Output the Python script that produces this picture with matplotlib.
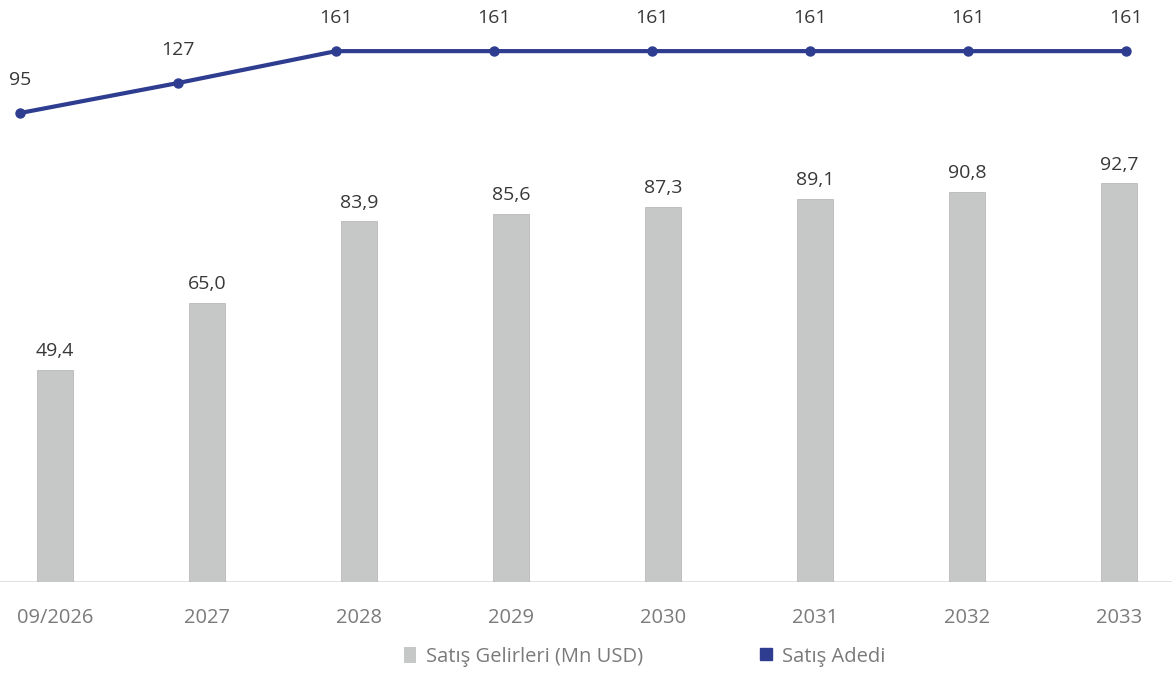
import matplotlib.pyplot as plt
from matplotlib.patches import Patch
from matplotlib.lines import Line2D

plt.rcParams['font.family'] = ['Open Sans', 'DejaVu Sans']

# data
years = ['09/2026', '2027', '2028', '2029', '2030', '2031', '2032', '2033']
gelir = [49.4, 65.0, 83.9, 85.6, 87.3, 89.1, 90.8, 92.7]   # Satış Gelirleri (Mn USD)
adet = [95, 127, 161, 161, 161, 161, 161, 161]             # Satış Adedi

bar_color = '#c6c8c7'
line_color = '#2e3d8f'
text_color = '#383838'

fig = plt.figure(figsize=(11.72, 6.73), dpi=100)
ax = fig.add_axes([0, 1 - 582 / 673, 1, 582 / 673])
x = list(range(len(years)))

ax.bar(x, gelir, width=0.24, color=bar_color, edgecolor='#b8bab9', linewidth=0.6, zorder=2)
ax.axhline(0, color='#dcdcdc', lw=1.2, zorder=1)
for i, v in zip(x, gelir):
    ax.annotate(f"{v:.1f}".replace('.', ','), (i, v), xytext=(0, 7), textcoords='offset points',
                ha='center', va='bottom', fontsize=14, color=text_color)

ax.set_xlim(-55 / 152, 7 + 53 / 152)
ax.set_ylim(0, 582 / 4.3)
ax.set_xticks(x)
ax.set_xticklabels(years, fontsize=14.5, color='#7a7a7a')
ax.tick_params(axis='x', length=0, pad=19)
ax.set_yticks([])
for s in ax.spines.values():
    s.set_visible(False)

# line on its own axes (points are not aligned with the bars)
ax2 = fig.add_axes(ax.get_position(), frameon=False)
ax2.plot(x, adet, color=line_color, lw=3, marker='o', markersize=6.5, zorder=3)
for i, v in zip(x, adet):
    ax2.annotate(str(v), (i, v), xytext=(0, 24), textcoords='offset points',
                 ha='center', va='center', fontsize=14, color=text_color)
ax2.set_xlim(-20 / 158, 7 + 46 / 158)
ax2.set_ylim(-405, 215.5)
ax2.set_xticks([])
ax2.set_yticks([])

handles = [Patch(facecolor=bar_color, edgecolor='none'),
           Line2D([], [], color=line_color, marker='s', lw=0, markersize=8)]
fig.legend(handles, ['Satış Gelirleri (Mn USD)', 'Satış Adedi'], loc='center',
           bbox_to_anchor=(0.55, 0.024), ncol=2, frameon=False, fontsize=14.5,
           labelcolor='#7a7a7a', handlelength=0.6, handleheight=0.8, columnspacing=5.8, handletextpad=0.5)

fig.savefig('out.png', dpi=100)
